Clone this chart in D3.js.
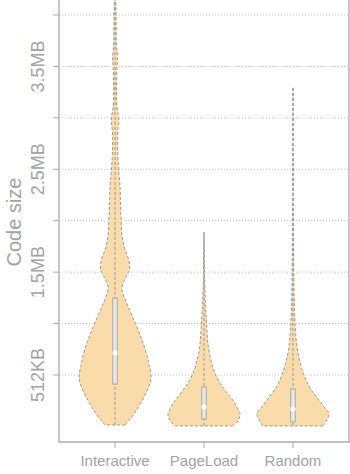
<!DOCTYPE html>
<html>
<head>
<meta charset="utf-8">
<script src="https://cdn.jsdelivr.net/npm/d3@7/dist/d3.min.js"></script>
<style>
  html, body { margin: 0; padding: 0; background: #fff; }
  svg { display: block; font-family: "Liberation Sans", Arial, sans-serif; }
</style>
</head>
<body>
<svg id="chart" width="350" height="474"></svg>
<script>
// Code size per workload (MB)
const categories = ["Interactive", "PageLoad", "Random"];

// Box summary per workload (MB)
const minVals = [0.014, 0.004, 0.004];
const q1Vals = [0.412, 0.072, 0.043];
const medians = [0.714, 0.189, 0.169];
const q3Vals = [1.248, 0.383, 0.364];
const maxVals = [4.40, 1.890, 3.300];

// Kernel density outlines: [value in MB, relative density]
const interactiveDensity = [
  [0.014, 0.28], [0.082, 0.44], [0.179, 0.63], [0.334, 0.87], [0.47, 1.0],
  [0.60, 0.94], [0.665, 0.905], [0.821, 0.77], [1.005, 0.56], [1.21, 0.31],
  [1.346, 0.19], [1.472, 0.33], [1.521, 0.40], [1.618, 0.38], [1.715, 0.28],
  [1.841, 0.20], [2.007, 0.17], [2.172, 0.15], [2.328, 0.14], [2.493, 0.10],
  [2.687, 0.07], [2.853, 0.07], [2.979, 0.105], [3.105, 0.055], [3.30, 0.04],
  [3.495, 0.055], [3.592, 0.07], [3.709, 0.04], [3.952, 0.03], [4.145, 0.02],
  [4.40, 0]
];
const pageLoadDensity = [
  [0.004, 0.77], [0.043, 0.92], [0.094, 0.99], [0.13, 1.0], [0.159, 0.95],
  [0.227, 0.86], [0.289, 0.72], [0.354, 0.58], [0.422, 0.44], [0.5, 0.325],
  [0.617, 0.21], [0.775, 0.12], [0.938, 0.083], [1.104, 0.055], [1.261, 0.033],
  [1.501, 0.014], [1.715, 0.008], [1.89, 0]
];
const randomDensity = [
  [0.004, 0.83], [0.062, 0.94], [0.121, 1.0], [0.192, 0.86], [0.289, 0.65],
  [0.354, 0.51], [0.422, 0.40], [0.5, 0.305], [0.617, 0.20], [0.775, 0.11],
  [0.938, 0.07], [1.104, 0.047], [1.261, 0.033], [1.589, 0.02], [2.2, 0.008],
  [2.69, 0.005], [3.3, 0]
];
const densities = [interactiveDensity, pageLoadDensity, randomDensity];

// Y axis ticks (MB) and their labels
const tickValues = [0.5, 1, 1.5, 2, 2.5, 3, 3.5, 4];
const tickLabels = ["512KB", "", "1.5MB", "", "2.5MB", "", "3.5MB", ""];

const svg = d3.select("#chart");
const plot = { left: 59, right: 349, top: 0, bottom: 442 };

const x = d3.scalePoint()
  .domain(categories)
  .range([plot.left, plot.right])
  .padding(0.63);

const y = d3.scaleLinear()
  .domain([0, 4])
  .range([426.4, 15]);

const halfWidth = d3.scaleLinear().domain([0, 1]).range([0, 36]);

const textColor = "#a3a3a3";
const axisColor = "#aaaaaa";

// Horizontal dotted gridlines
svg.append("g")
  .selectAll("line")
  .data(tickValues)
  .join("line")
  .attr("x1", plot.left)
  .attr("x2", plot.right)
  .attr("y1", d => y(d))
  .attr("y2", d => y(d))
  .attr("stroke", "#c4c4c4")
  .attr("stroke-width", 1)
  .attr("stroke-dasharray", "1,2");

// Clip marks to the plotting region
svg.append("clipPath").attr("id", "plotClip")
  .append("rect")
  .attr("x", plot.left).attr("y", plot.top)
  .attr("width", plot.right - plot.left)
  .attr("height", plot.bottom - plot.top);

const marks = svg.append("g").attr("clip-path", "url(#plotClip)");

categories.forEach((cat, i) => {
  const cx = x(cat);
  const g = marks.append("g");

  const area = d3.area()
    .y(d => y(d[0]))
    .x0(d => cx - halfWidth(d[1]))
    .x1(d => cx + halfWidth(d[1]))
    .curve(d3.curveCatmullRom);

  g.append("path")
    .attr("d", area(densities[i]))
    .attr("fill", "#f9dcaa")
    .attr("stroke", "#9a9a9a")
    .attr("stroke-width", 1)
    .attr("stroke-dasharray", "3,2");

  // Range line
  g.append("line")
    .attr("x1", cx).attr("x2", cx)
    .attr("y1", y(minVals[i])).attr("y2", y(maxVals[i]))
    .attr("stroke", "#999")
    .attr("stroke-width", 1)
    .attr("stroke-dasharray", "3,2");

  // Interquartile box
  g.append("rect")
    .attr("x", cx - 2.25)
    .attr("width", 4.5)
    .attr("y", y(q3Vals[i]))
    .attr("height", y(q1Vals[i]) - y(q3Vals[i]))
    .attr("fill", "#e8e8e8")
    .attr("stroke", "#a8a8a8")
    .attr("stroke-width", 1);

  // Median
  g.append("circle")
    .attr("cx", cx)
    .attr("cy", y(medians[i]))
    .attr("r", 2.6)
    .attr("fill", "#ffffff");
});

// Frame: left, bottom, right
svg.append("path")
  .attr("d", `M${plot.left},${plot.top}V${plot.bottom}H${plot.right}V${plot.top}`)
  .attr("fill", "none")
  .attr("stroke", axisColor)
  .attr("stroke-width", 1.3);

// Y axis ticks and labels
const yAxis = svg.append("g");
yAxis.selectAll("line")
  .data(tickValues)
  .join("line")
  .attr("x1", plot.left - 6)
  .attr("x2", plot.left)
  .attr("y1", d => y(d))
  .attr("y2", d => y(d))
  .attr("stroke", axisColor)
  .attr("stroke-width", 1);

yAxis.selectAll("text")
  .data(tickValues.map((v, i) => ({ v, label: tickLabels[i] })).filter(d => d.label))
  .join("text")
  .attr("transform", d => `translate(44,${y(d.v)}) rotate(-90)`)
  .attr("text-anchor", "middle")
  .attr("font-size", 18)
  .attr("fill", textColor)
  .text(d => d.label);

// X axis ticks and labels
const xAxis = svg.append("g");
xAxis.selectAll("line")
  .data(categories)
  .join("line")
  .attr("x1", d => x(d)).attr("x2", d => x(d))
  .attr("y1", plot.bottom).attr("y2", plot.bottom + 6)
  .attr("stroke", axisColor)
  .attr("stroke-width", 1);

xAxis.selectAll("text")
  .data(categories)
  .join("text")
  .attr("x", d => x(d))
  .attr("y", 466)
  .attr("text-anchor", "middle")
  .attr("font-size", 15)
  .attr("fill", textColor)
  .text(d => d);

// Y axis title
svg.append("text")
  .attr("transform", "translate(21,222) rotate(-90)")
  .attr("text-anchor", "middle")
  .attr("font-size", 20)
  .attr("fill", textColor)
  .text("Code size");
</script>
</body>
</html>
